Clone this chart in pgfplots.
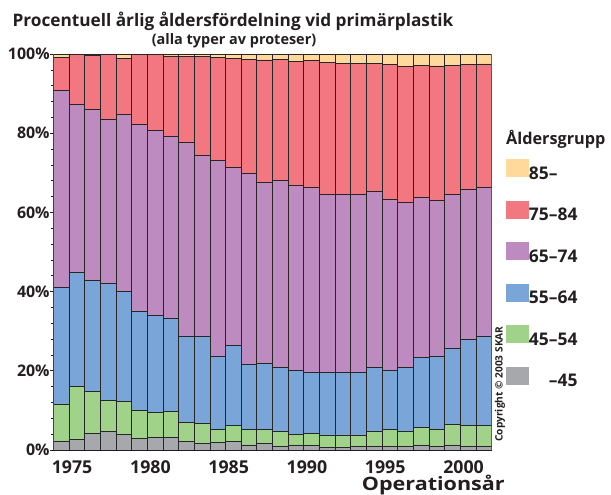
\documentclass[border=0pt]{standalone}
\usepackage{fontspec}
\setmainfont{Open Sans}
\usepackage{calc}
\usepackage{pgfplots}
\usepackage{pgfplotstable}
\pgfplotsset{compat=1.18}
\definecolor{cGray}{HTML}{A7A8AC}
\definecolor{cGreen}{HTML}{A0D28A}
\definecolor{cBlue}{HTML}{7AA5D8}
\definecolor{cPurple}{HTML}{BD8BC0}
\definecolor{cRed}{HTML}{F27780}
\definecolor{cYellow}{HTML}{FFD89B}
\definecolor{txt}{HTML}{231F20}
\pgfplotstableread{
year gray green blue purple red yellow
1975 2.3 9.3 29.5 49.6 8.5 0.8
1976 2.7 13.3 28.9 42.5 12.4 0.2
1977 4.2 10.5 28.1 43.1 13.8 0.3
1978 4.6 8.0 29.5 41.4 16.3 0.2
1979 4.0 8.2 27.8 44.8 14.0 1.2
1980 2.9 7.2 25.0 47.2 17.5 0.2
1981 3.2 6.3 24.5 46.8 19.0 0.2
1982 3.2 6.6 23.4 46.1 20.2 0.5
1983 2.1 4.8 21.9 48.9 21.6 0.7
1984 1.7 5.0 21.9 45.7 25.0 0.7
1985 1.9 3.4 18.3 49.5 26.1 0.8
1986 2.1 4.2 20.0 45.1 27.4 1.2
1987 1.3 3.8 16.5 48.3 28.8 1.3
1988 1.7 3.4 16.8 45.6 31.0 1.5
1989 1.0 3.8 16.1 47.3 30.5 1.3
1990 1.3 2.7 16.0 46.8 31.3 1.9
1991 1.1 3.1 15.4 46.6 32.1 1.7
1992 0.7 3.1 15.8 45.0 33.2 2.2
1993 0.7 3.1 15.8 44.9 33.1 2.4
1994 0.8 3.0 15.8 45.0 33.0 2.4
1995 1.0 3.8 16.1 44.5 32.2 2.4
1996 0.8 4.3 15.1 43.2 34.0 2.6
1997 0.8 4.0 16.1 41.6 34.3 3.2
1998 1.3 4.3 17.8 40.4 33.4 2.8
1999 0.8 4.5 18.4 39.4 33.9 3.0
2000 1.3 5.2 19.2 38.9 32.6 2.8
2001 0.8 5.5 21.7 37.7 31.7 2.6
2002 0.8 5.3 22.7 37.4 31.3 2.5
}\agedata
\begin{document}
\begin{tikzpicture}
\path[use as bounding box] (0bp,0bp) rectangle (611bp,495bp);
\begin{axis}[
  at={(53.3bp,45bp)}, anchor=south west, scale only axis,
  width=438.4bp, height=396bp,
  ybar stacked, bar width=1,
  xmin=1974.5, xmax=2002.5, ymin=0, ymax=100,
  axis x line*=bottom, axis y line*=left,
  axis line style={-, color=txt, line width=0.8bp},
  xtick={1975.7,1980.7,1985.7,1990.7,1995.7,2000.7},
  xticklabels={1975,1980,1985,1990,1995,2000},
  x tick style={draw=none},
  xticklabel style={font=\fontsize{17.8}{17.8}\selectfont\bfseries, text=txt, inner sep=0pt, yshift=-7bp},
  ytick={0,20,40,60,80,100},
  yticklabels={0\%,20\%,40\%,60\%,80\%,100\%},
  minor y tick num=4,
  y tick style={color=txt, line width=0.6bp},
  tick align=outside, major tick length=3bp, minor tick length=2.5bp,
  yticklabel style={font=\fontsize{16}{16}\selectfont\bfseries, text=txt, inner sep=0.5bp},
  every axis plot/.append style={draw=black!85, line width=0.7bp},
  reverse legend, legend cell align=left,
  legend image code/.code={\fill[#1, draw=none] (0bp,-3.5bp) rectangle (23bp,14.5bp);},
  legend style={at={(1.0326,0.7348)}, anchor=north west, draw=none, fill=none,
    inner sep=0pt, outer sep=0pt, row sep=20bp,
    font=\fontsize{17.5}{17.5}\selectfont\bfseries, text=txt,
    nodes={inner sep=0pt},
    /tikz/every even column/.append style={column sep=5bp}},
]
\addplot[fill=cGray] table[x=year,y=gray]{\agedata};
\addlegendentry{\makebox[\widthof{75–84}][r]{–45}}
\addplot[fill=cGreen] table[x=year,y=green]{\agedata};
\addlegendentry{45–54}
\addplot[fill=cBlue] table[x=year,y=blue]{\agedata};
\addlegendentry{55–64}
\addplot[fill=cPurple] table[x=year,y=purple]{\agedata};
\addlegendentry{65–74}
\addplot[fill=cRed] table[x=year,y=red]{\agedata};
\addlegendentry{75–84}
\addplot[fill=cYellow] table[x=year,y=yellow]{\agedata};
\addlegendentry{85–}
\end{axis}
\node[anchor=base, text=txt, font=\fontsize{17.3}{17.3}\selectfont\bfseries, inner sep=0pt] at (233bp,468.3bp) {Procentuell årlig åldersfördelning vid primärplastik};
\node[anchor=base, text=txt, font=\fontsize{14.5}{14.5}\selectfont\bfseries, inner sep=0pt] at (234bp,450bp) {(alla typer av proteser)};
\node[anchor=base west, text=txt, font=\fontsize{16.3}{16.3}\selectfont\bfseries, inner sep=0pt] at (506bp,350bp) {Åldersgrupp};
\node[anchor=base east, text=txt, font=\fontsize{18.5}{18.5}\selectfont\bfseries, inner sep=0pt, xscale=1.17, transform shape] at (505bp,5bp) {Operationsår};
\node[rotate=90, text=txt, font=\fontsize{10.2}{10.2}\selectfont\bfseries, inner sep=0pt] at (500bp,111bp) {Copyright © 2003 SKAR};
\end{tikzpicture}
\end{document}
